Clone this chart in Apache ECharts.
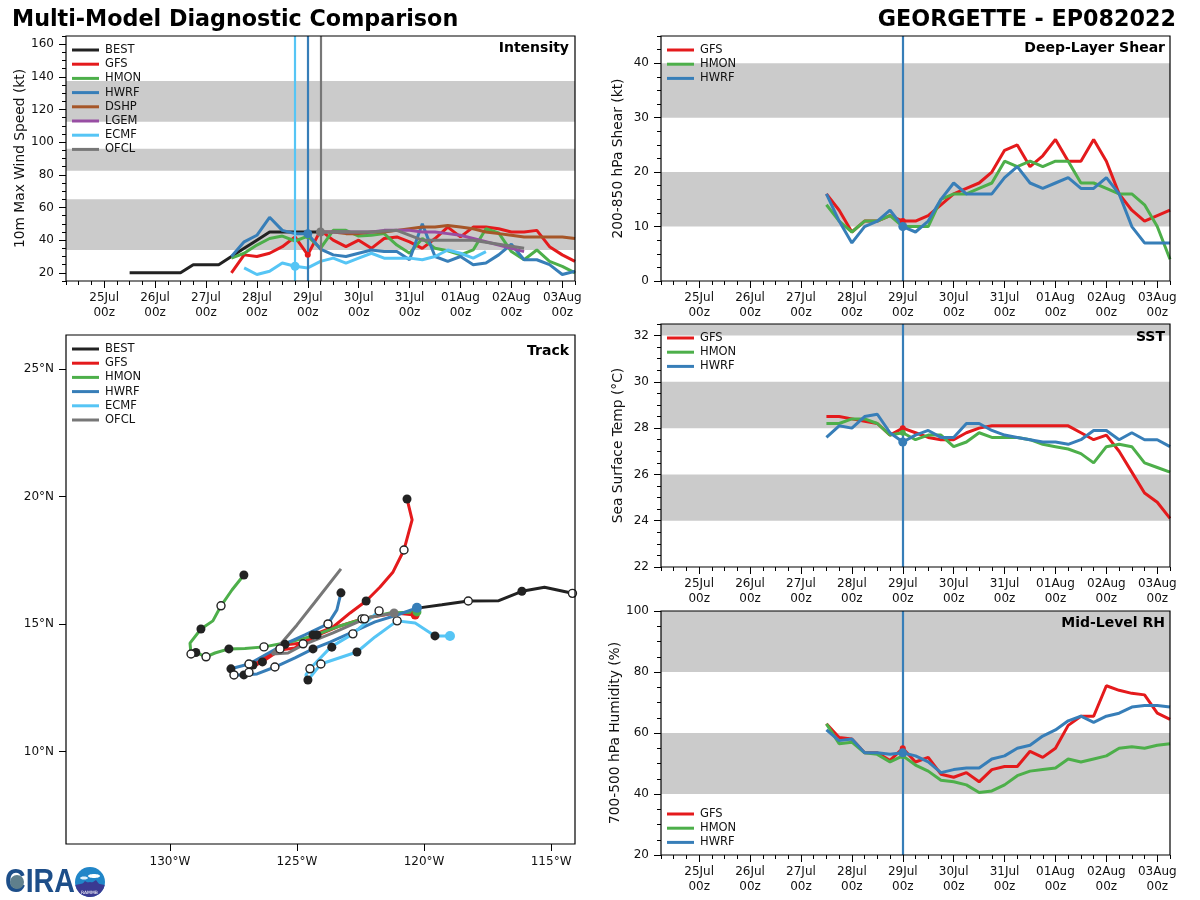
<!DOCTYPE html>
<html>
<head>
<meta charset="utf-8">
<style>html,body{margin:0;padding:0;background:#fff}#cnv{width:1200px;height:900px}</style>
<script src="https://cdn.jsdelivr.net/npm/echarts@6/dist/echarts.min.js"></script>
</head>
<body>
<div id="cnv"></div>
<script>
// hours are counted from 25Jul 00z, models are every 6h
var dayTicks = [0, 24, 48, 72, 96, 120, 144, 168, 192, 216];
var dayLabels = ["25Jul", "26Jul", "27Jul", "28Jul", "29Jul", "30Jul", "31Jul", "01Aug", "02Aug", "03Aug"];
var modelStart = 60;
var officialStart = 102;

var bestWind = [20, 20, 20, 20, 20, 25, 25, 25, 30, 35, 40, 45, 45, 45, 45, 45];
var gfsWind = [20, 31, 30, 32, 36, 42, 31, 46, 40, 36, 40, 35, 41, 42, 39, 35, 41, 48, 42, 48, 48, 47, 45, 45, 46, 36, 31, 27];
var hmonWind = [29, 32, 37, 41, 42.5, 39.5, 42.5, 35, 46, 46, 42.5, 43, 44, 37, 32, 41, 35, 33.5, 31, 34, 47, 44.5, 33, 28, 34, 27, 24, 20];
var hwrfWind = [30, 39, 43, 54, 46, 44, 44, 34.5, 31, 30, 32, 34, 33, 33, 28, 50, 30, 27, 30, 25, 26, 31, 37.5, 28, 28, 25, 19, 21];
var dshpWind = [45, 45, 44, 44, 45, 45, 46, 47, 48, 48, 49, 48, 47, 45, 44, 43, 42, 42, 42, 42, 41];
var lgemWind = [45, 45, 45, 45, 45, 46, 46, 46, 45, 45, 44, 43, 41, 39, 37, 35, 33];
var ecmfWind = [23, 19, 21, 26, 24, 23, 27, 29, 26, 29, 32, 29, 29, 29, 28, 30, 34, 32, 29, 33];
var ofclHours = [102, 114, 126, 138, 150, 174, 198];
var ofclWind = [45, 45, 45, 46, 40, 40, 35];

var gfsShear = [16, 13, 9, 11, 11, 12, 11, 11, 12, 14, 16, 17, 18, 20, 24, 25, 21, 23, 26, 22, 22, 26, 22, 16, 13, 11, 12, 13];
var hmonShear = [14, 11, 9, 11, 11, 12, 10, 10, 10, 15, 16, 16, 17, 18, 22, 21, 22, 21, 22, 22, 18, 18, 17, 16, 16, 14, 10, 4];
var hwrfShear = [16, 11, 7, 10, 11, 13, 10, 9, 11, 15, 18, 16, 16, 16, 19, 21, 18, 17, 18, 19, 17, 17, 19, 16, 10, 7, 7, 7];

var gfsSst = [28.5, 28.5, 28.4, 28.3, 28.2, 27.7, 28.0, 27.8, 27.6, 27.5, 27.5, 27.8, 28.0, 28.1, 28.1, 28.1, 28.1, 28.1, 28.1, 28.1, 27.8, 27.5, 27.7, 27.0, 26.1, 25.2, 24.8, 24.1];
var hmonSst = [28.2, 28.2, 28.4, 28.4, 28.2, 27.7, 27.8, 27.5, 27.7, 27.7, 27.2, 27.4, 27.8, 27.6, 27.6, 27.6, 27.5, 27.3, 27.2, 27.1, 26.9, 26.5, 27.2, 27.3, 27.2, 26.5, 26.3, 26.1];
var hwrfSst = [27.6, 28.1, 28.0, 28.5, 28.6, 27.8, 27.4, 27.7, 27.9, 27.6, 27.6, 28.2, 28.2, 27.9, 27.7, 27.6, 27.5, 27.4, 27.4, 27.3, 27.5, 27.9, 27.9, 27.5, 27.8, 27.5, 27.5, 27.2];

var gfsRh = [63, 58.5, 58, 53.5, 53.5, 51, 55, 50.5, 52, 46.5, 45.5, 47, 44, 48, 49, 49, 54, 52, 55, 62.5, 65.5, 65.5, 75.5, 74, 73, 72.5, 66.5, 64.5];
var hmonRh = [63, 56.5, 57, 53.5, 53, 50.5, 52.5, 49.5, 47.5, 44.5, 44, 43, 40.5, 41, 43, 46, 47.5, 48, 48.5, 51.5, 50.5, 51.5, 52.5, 55, 55.5, 55, 56, 56.5];
var hwrfRh = [61, 57.5, 58, 53.5, 53.5, 53, 53.5, 52.5, 50.5, 47, 48, 48.5, 48.5, 51.5, 52.5, 55, 56, 59, 61, 64, 65.5, 63.5, 65.5, 66.5, 68.5, 69, 69, 68.5];

// tracks are [lon, lat]
var bestTrack = [[-114.16, 16.2], [-115.26, 16.44], [-116.15, 16.28], [-117.06, 15.91], [-118.26, 15.9], [-119.3, 15.75], [-120.26, 15.62]];
var gfsTrack = [[-120.35, 15.35], [-121.14, 15.43], [-122.44, 15.2], [-123.31, 14.92], [-124.25, 14.53], [-125.08, 14.06], [-125.67, 13.98], [-126.38, 13.51], [-126.85, 13.27], [-126.73, 13.39], [-125.47, 14.18], [-124.76, 14.25], [-124.25, 14.61], [-123.58, 14.88], [-122.91, 15.43], [-122.28, 15.9], [-121.73, 16.45], [-121.22, 17.04], [-120.79, 17.9], [-120.47, 19.08], [-120.67, 19.9]];
var hmonTrack = [[-120.28, 15.47], [-121.34, 15.43], [-122.4, 15.2], [-123.31, 14.92], [-124.37, 14.53], [-125.28, 14.29], [-126.3, 14.1], [-127.05, 14.04], [-127.68, 14.02], [-128.23, 13.86], [-128.58, 13.71], [-128.98, 13.88], [-129.17, 13.82], [-129.21, 14.25], [-128.78, 14.8], [-128.31, 15.12], [-127.99, 15.71], [-127.56, 16.33], [-127.09, 16.92]];
var hwrfTrack = [[-120.28, 15.63], [-121.06, 15.35], [-121.93, 15.08], [-122.8, 14.69], [-123.7, 14.29], [-124.37, 14.02], [-125.08, 13.67], [-125.87, 13.31], [-126.57, 13.04], [-127.09, 13.0], [-127.48, 13.0], [-127.6, 13.24], [-126.89, 13.43], [-126.26, 13.78], [-125.47, 14.22], [-124.69, 14.57], [-123.78, 15.0], [-123.43, 15.55], [-123.27, 16.22]];
var ecmfTrack = [[-118.98, 14.53], [-119.57, 14.53], [-120.35, 15.04], [-121.06, 15.12], [-121.93, 14.49], [-122.64, 13.9], [-124.06, 13.43], [-124.57, 12.8], [-124.65, 13.0], [-124.49, 13.24], [-123.66, 14.1], [-122.8, 14.61], [-121.77, 15.51]];
var ofclTrack = [[-121.18, 15.43], [-122.24, 15.24], [-123.58, 14.65], [-124.76, 14.18], [-125.35, 13.86], [-125.98, 13.82], [-125.0, 14.96], [-124.29, 15.86], [-123.27, 17.16]];
var filledDots = [[-116.15, 16.28], [-120.67, 19.9], [-122.28, 15.9], [-123.27, 16.22], [-127.09, 16.92], [-128.78, 14.8], [-128.98, 13.88], [-127.68, 14.02], [-125.47, 14.2], [-124.37, 14.57], [-124.21, 14.57], [-124.37, 14.02], [-123.63, 14.09], [-122.64, 13.9], [-119.57, 14.53], [-124.57, 12.8], [-126.36, 13.51], [-126.73, 13.39], [-127.09, 13.0], [-127.6, 13.24]];
var openDots = [[-114.16, 16.2], [-118.26, 15.9], [-120.79, 17.9], [-121.77, 15.51], [-121.06, 15.12], [-122.44, 15.2], [-122.34, 15.2], [-123.78, 15.0], [-122.8, 14.61], [-124.76, 14.22], [-125.67, 14.02], [-126.3, 14.1], [-127.99, 15.71], [-128.58, 13.71], [-129.17, 13.82], [-125.87, 13.31], [-126.89, 13.43], [-126.89, 13.1], [-127.48, 13.0], [-124.06, 13.43], [-124.49, 13.24]];
var trackLonTicks = [-130, -125, -120, -115];
var trackLatTicks = [10, 15, 20, 25];

var windBands = [[34, 65], [82.5, 96], [112.5, 137.5]];
var shearBands = [[10, 20], [30, 40]];
var sstBands = [[24, 26], [28, 30], [32, 32.5]];
var rhBands = [[40, 60], [80, 100]];

var colors = { BEST: "#222222", GFS: "#e41a1c", HMON: "#4daf4a", HWRF: "#377eb8", DSHP: "#a65628", LGEM: "#984ea3", ECMF: "#56c5f5", OFCL: "#777777" };
var font = "DejaVu Sans";
var lineW = 3;

var grids = [], xAxes = [], yAxes = [], series = [], legends = [], titles = [];

function pairs(start, values) {
    return values.map(function (v, i) { return [start + i * 6, v]; });
}

// each panel gets a major axis (labels) and a minor axis (short ticks) per direction
function addPanel(p) {
    var g = grids.length;
    grids.push({ show: true, z: 10, left: p.left, top: p.top, width: 509, height: p.height, backgroundColor: "transparent", borderColor: "#000", borderWidth: 1.2 });
    xAxes.push({
        type: "value", gridIndex: g, position: "bottom", min: p.xMin, max: p.xMax, splitLine: { show: false }, z: 11,
        axisLine: { show: false, onZero: false },
        axisTick: { show: true, customValues: p.xTicks, length: 7, lineStyle: { color: "#000", width: 1 } },
        axisLabel: { customValues: p.xTicks, margin: p.xMargin, fontFamily: font, fontSize: 12, lineHeight: 15, color: "#111", hideOverlap: false, showMinLabel: true, showMaxLabel: true, formatter: p.xFormat }
    });
    xAxes.push({
        type: "value", gridIndex: g, position: "bottom", min: p.xMin, max: p.xMax, interval: p.xMinor, show: !!p.xMinor, splitLine: { show: false },
        axisLine: { show: false, onZero: false }, axisLabel: { show: false },
        axisTick: { show: true, length: 4, lineStyle: { color: "#000", width: 1 } }
    });
    yAxes.push({
        type: "value", gridIndex: g, position: "left", min: p.yMin, max: p.yMax, splitLine: { show: false }, z: 11,
        name: p.yName, nameLocation: "middle", nameGap: p.nameGap, nameTextStyle: { fontFamily: font, fontSize: 13.8, color: "#111" },
        axisLine: { show: false, onZero: false },
        axisTick: { show: true, customValues: p.yTicks, length: 7, lineStyle: { color: "#000", width: 1 } },
        axisLabel: { customValues: p.yTicks, margin: 12, padding: [3, 0, 0, 0], fontFamily: font, fontSize: 12, color: "#111", showMinLabel: true, showMaxLabel: true, formatter: p.yFormat }
    });
    yAxes.push({
        type: "value", gridIndex: g, position: "left", min: p.yMin, max: p.yMax, interval: p.yMinor, show: !!p.yMinor, splitLine: { show: false },
        axisLine: { show: false, onZero: false }, axisLabel: { show: false },
        axisTick: { show: true, length: 4, lineStyle: { color: "#000", width: 1 } }
    });
    titles.push({ text: p.label, right: 1200 - p.labelRight, top: p.labelTop, padding: 0, textStyle: { fontFamily: font, fontSize: 14, fontWeight: "bold", color: "#000" } });
    legends.push({
        data: p.legend, orient: "vertical", left: p.left + 6, top: p.legendTop, padding: 0, itemGap: 2.2, itemWidth: 27, itemHeight: 3, icon: "rect", selectedMode: false,
        textStyle: { fontFamily: font, fontSize: 11.5, color: "#111", padding: [0, 0, 0, 1] }
    });
    return g * 2;
}

function addBands(ax, bands) {
    series.push({
        type: "line", data: [], xAxisIndex: ax, yAxisIndex: ax, z: 1, silent: true,
        markArea: { silent: true, z: 1, itemStyle: { color: "#cbcbcb" }, data: bands.map(function (b) { return [{ yAxis: b[0] }, { yAxis: b[1] }]; }) }
    });
}

function addLine(ax, name, data) {
    series.push({ type: "line", name: name, data: data, xAxisIndex: ax, yAxisIndex: ax, z: 3, symbol: "none", silent: true, lineStyle: { color: colors[name], width: lineW }, itemStyle: { color: colors[name] }, emphasis: { disabled: true } });
}

function addVline(ax, name, hour) {
    series.push({
        type: "line", data: [], xAxisIndex: ax, yAxisIndex: ax, z: 4, silent: true,
        markLine: { symbol: "none", silent: true, animation: false, z: 4, label: { show: false }, lineStyle: { color: colors[name], width: 2.2, type: "solid" }, data: [{ xAxis: hour }] }
    });
}

function addDots(ax, color, data, size, border) {
    series.push({
        type: "scatter", data: data, xAxisIndex: ax, yAxisIndex: ax, z: 6, symbol: "circle", symbolSize: size, silent: true,
        itemStyle: { color: color, opacity: 1, borderColor: border || color, borderWidth: border ? 1.4 : 0 }
    });
}

var timeAxis = {
    xMin: -18, xMax: 222, xMinor: 6, xTicks: dayTicks, xMargin: 9,
    xFormat: function (v) { return dayLabels[v / 24] + "\n00z"; },
    yFormat: function (v) { return String(v); }
};

function panel(extra) {
    return Object.assign({}, timeAxis, extra);
}

var threeModels = ["GFS", "HMON", "HWRF"];

// intensity
var ax = addPanel(panel({
    left: 66, top: 36, height: 245, yMin: 15, yMax: 165, yMinor: 5, yTicks: [20, 40, 60, 80, 100, 120, 140, 160],
    yName: "10m Max Wind Speed (kt)", nameGap: 39, label: "Intensity", labelRight: 569, labelTop: 41,
    legend: ["BEST", "GFS", "HMON", "HWRF", "DSHP", "LGEM", "ECMF", "OFCL"], legendTop: 44
}));
addBands(ax, windBands);
addLine(ax, "BEST", pairs(12, bestWind));
addLine(ax, "GFS", pairs(modelStart, gfsWind));
addLine(ax, "HMON", pairs(modelStart, hmonWind));
addLine(ax, "HWRF", pairs(modelStart, hwrfWind));
addLine(ax, "DSHP", pairs(officialStart, dshpWind));
addLine(ax, "LGEM", pairs(officialStart, lgemWind));
addLine(ax, "ECMF", pairs(66, ecmfWind));
addLine(ax, "OFCL", ofclHours.map(function (h, i) { return [h, ofclWind[i]]; }));
addVline(ax, "ECMF", 90);
addVline(ax, "HWRF", 96);
addVline(ax, "OFCL", 102);
addDots(ax, colors.GFS, [[96, gfsWind[6]]], 6);
addDots(ax, colors.HMON, [[96, hmonWind[6]]], 6);
addDots(ax, colors.HWRF, [[96, hwrfWind[6]]], 9);
addDots(ax, colors.ECMF, [[90, ecmfWind[4]]], 9);
addDots(ax, colors.OFCL, [[102, ofclWind[0]]], 9);

// track
var ax2 = addPanel({
    left: 66, top: 335, height: 509, xMin: -134.09, xMax: -114.06, yMin: 6.37, yMax: 26.33, xTicks: trackLonTicks, yTicks: trackLatTicks, xMargin: 10,
    xFormat: function (v) { return Math.abs(v) + "°W"; }, yFormat: function (v) { return v + "°N"; },
    label: "Track", labelRight: 569, labelTop: 344,
    legend: ["BEST", "GFS", "HMON", "HWRF", "ECMF", "OFCL"], legendTop: 343
});
addLine(ax2, "BEST", bestTrack);
addLine(ax2, "GFS", gfsTrack);
addLine(ax2, "HMON", hmonTrack);
addLine(ax2, "HWRF", hwrfTrack);
addLine(ax2, "ECMF", ecmfTrack);
addLine(ax2, "OFCL", ofclTrack);
addDots(ax2, "#222222", filledDots, 9);
addDots(ax2, "#ffffff", openDots, 8, "#222222");
addDots(ax2, colors.GFS, [gfsTrack[0]], 9);
addDots(ax2, colors.HMON, [hmonTrack[0]], 9);
addDots(ax2, colors.HWRF, [hwrfTrack[0]], 10);
addDots(ax2, colors.ECMF, [ecmfTrack[0]], 10);
addDots(ax2, colors.OFCL, [ofclTrack[0]], 9);

// right column, all three have the same models and the 29Jul line
function addEnvPanel(opts, bands, gfs, hmon, hwrf) {
    var a = addPanel(panel(Object.assign({ left: 661, nameGap: 36, labelRight: 1165, legend: threeModels }, opts)));
    addBands(a, bands);
    addLine(a, "GFS", pairs(modelStart, gfs));
    addLine(a, "HMON", pairs(modelStart, hmon));
    addLine(a, "HWRF", pairs(modelStart, hwrf));
    addVline(a, "HWRF", 96);
    addDots(a, colors.GFS, [[96, gfs[6]]], 6);
    addDots(a, colors.HMON, [[96, hmon[6]]], 6);
    addDots(a, colors.HWRF, [[96, hwrf[6]]], 9);
}
addEnvPanel({ top: 36, height: 245, yMin: 0, yMax: 45, yMinor: 2.5, yTicks: [0, 10, 20, 30, 40], yName: "200-850 hPa Shear (kt)", label: "Deep-Layer Shear", labelTop: 41, legendTop: 44 }, shearBands, gfsShear, hmonShear, hwrfShear);
addEnvPanel({ top: 324, height: 243, yMin: 22, yMax: 32.5, yMinor: 0.5, yTicks: [22, 24, 26, 28, 30, 32], yName: "Sea Surface Temp (°C)", label: "SST", labelTop: 330, legendTop: 332 }, sstBands, gfsSst, hmonSst, hwrfSst);
addEnvPanel({ top: 611, height: 244, yMin: 20, yMax: 100, yMinor: 5, yTicks: [20, 40, 60, 80, 100], yName: "700-500 hPa Humidity (%)", label: "Mid-Level RH", labelTop: 616, legendTop: 808 }, rhBands, gfsRh, hmonRh, hwrfRh);

titles.push({ text: "Multi-Model Diagnostic Comparison", left: 12, top: 9, padding: 0, textStyle: { fontFamily: font, fontSize: 22.25, fontWeight: "bold", color: "#000" } });
titles.push({ text: "GEORGETTE - EP082022", right: 24, top: 9, padding: 0, textStyle: { fontFamily: font, fontSize: 22.25, fontWeight: "bold", color: "#000" } });

var main = document.getElementById("cnv");
var myechart = echarts.init(main, null, { renderer: "canvas" });
var option = {
    animation: false,
    backgroundColor: "#fff",
    title: titles,
    legend: legends,
    grid: grids,
    xAxis: xAxes,
    yAxis: yAxes,
    series: series,
    // logo in the corner
    graphic: [
        { type: "text", x: 5, y: 866, scaleX: 0.84, style: { text: "CIRA", fontFamily: "Liberation Sans", fontWeight: "bold", fontSize: 34, fill: "#1d4e89" } },
        { type: "circle", shape: { cx: 17, cy: 882, r: 7 }, style: { fill: "#5f7f8c" } },
        { type: "circle", shape: { cx: 90, cy: 882, r: 15 }, style: { fill: "#2186c8" } },
        { type: "sector", shape: { cx: 90, cy: 882, r: 15, startAngle: 0.2, endAngle: 2.94 }, style: { fill: "#3a3a92" } },
        { type: "polygon", shape: { points: [[79, 888], [85, 881], [90, 884], [96, 880], [102, 888]] }, style: { fill: "#3a3a92" } },
        { type: "ellipse", shape: { cx: 94, cy: 876, rx: 6, ry: 2 }, style: { fill: "#ffffff" } },
        { type: "ellipse", shape: { cx: 84, cy: 878, rx: 4, ry: 1.5 }, style: { fill: "#dff1fb" } },
        { type: "text", x: 81, y: 890, style: { text: "RAMMB", fontFamily: font, fontSize: 4.5, fill: "#ffffff" } }
    ]
};
myechart.setOption(option);
</script>
</body>
</html>
